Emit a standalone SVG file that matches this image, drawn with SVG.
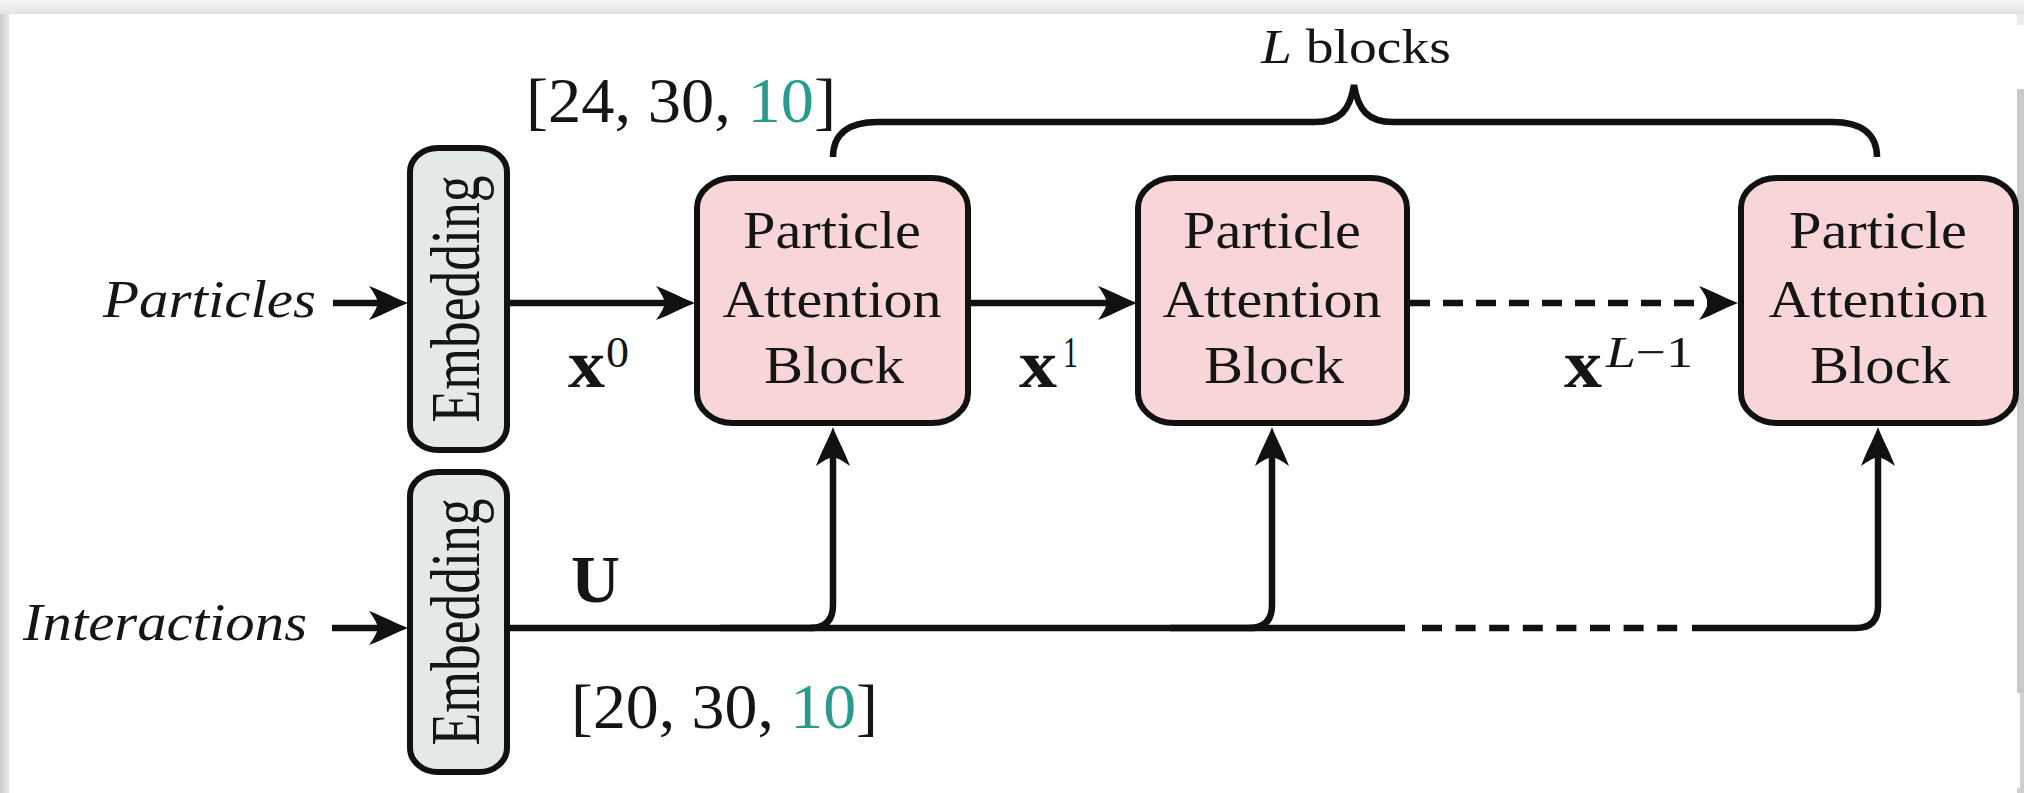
<svg xmlns="http://www.w3.org/2000/svg" width="2024" height="793" viewBox="0 0 2024 793">
  <defs>
    <linearGradient id="gTop" x1="0" y1="0" x2="0" y2="1">
      <stop offset="0" stop-color="#f6f6f6"/>
      <stop offset="1" stop-color="#e3e3e3"/>
    </linearGradient>
    <linearGradient id="gLeft" x1="0" y1="0" x2="1" y2="0">
      <stop offset="0" stop-color="#cdcdcd"/>
      <stop offset="1" stop-color="#e8e8e8"/>
    </linearGradient>
    <marker id="arrow" markerUnits="userSpaceOnUse" viewBox="-20 -20 50 40" refX="0" refY="0" markerWidth="50" markerHeight="40" orient="auto">
      <path d="M25,0 C14,-4 2,-11 -14,-17 Q-6,-6 -5,0 Q-6,6 -14,17 C2,11 14,4 25,0 Z" fill="#111"/>
    </marker>
    <style>
      .pab { fill: #f8d6d7; stroke: #111; stroke-width: 6; }
      .emb { fill: #e2e9e7; stroke: #111; stroke-width: 6; }
      .lbl { font-family: "Liberation Serif", "Times New Roman", serif; fill: #151515; }
      .blk { font-size: 52px; text-anchor: middle; }
      .ital { font-style: italic; }
      .bold { font-weight: bold; }
      .conn { fill: none; stroke: #111; stroke-width: 6.5; }
      .teal { fill: #2a9a8c; }
    </style>
  </defs>

  <!-- page background / edges -->
  <rect x="0" y="0" width="2024" height="793" fill="#ffffff"/>
  <rect x="0" y="0" width="2024" height="14" fill="url(#gTop)"/>
  <rect x="0" y="14" width="9" height="779" fill="url(#gLeft)"/>
  <rect x="2017" y="14" width="7" height="11" fill="#ececec"/>
  <rect x="2017" y="89" width="7" height="604" fill="#c9c9c9"/>
  <rect x="2020" y="693" width="4" height="95" fill="#d0d0d0"/>
  <rect x="2017" y="788" width="7" height="5" fill="#d0d0d0"/>

  <!-- connectors -->
  <g id="connectors">
    <!-- Particles input -->
    <line class="conn" x1="333" y1="303" x2="383" y2="303" marker-end="url(#arrow)"/>
    <!-- Embedding -> PAB1 -->
    <line class="conn" x1="507" y1="303" x2="670" y2="303" marker-end="url(#arrow)"/>
    <!-- PAB1 -> PAB2 -->
    <line class="conn" x1="968" y1="303" x2="1112" y2="303" marker-end="url(#arrow)"/>
    <!-- PAB2 -> PAB3 dashed -->
    <line class="conn" x1="1410" y1="303" x2="1713" y2="303" stroke-dasharray="20 13" marker-end="url(#arrow)"/>
    <!-- Interactions input -->
    <line class="conn" x1="332" y1="628" x2="383" y2="628" marker-end="url(#arrow)"/>
    <!-- U line -->
    <line class="conn" x1="507" y1="628" x2="1405" y2="628"/>
    <line class="conn" x1="720" y1="628" x2="815" y2="628" stroke-width="9"/>
    <line class="conn" x1="1170" y1="628" x2="1255" y2="628" stroke-width="9"/>
    <line class="conn" x1="1422" y1="628" x2="1680" y2="628" stroke-dasharray="20 13.6"/>
    <path class="conn" d="M1692,628 L1856,628 Q1878,628 1878,606 L1878,452" marker-end="url(#arrow)"/>
    <!-- branches up -->
    <path class="conn" d="M810,628 Q833,628 833,605 L833,452" marker-end="url(#arrow)"/>
    <path class="conn" d="M1249,628 Q1272,628 1272,605 L1272,452" marker-end="url(#arrow)"/>
    <!-- brace -->
    <path class="conn" d="M833,157 C833,135 847,122 878,122 L1315,122 C1340,122 1350,110 1354,85 C1358,110 1368,122 1393,122 L1832,122 C1863,122 1877,135 1877,157"/>
  </g>

  <!-- nodes -->
  <g id="embedding-particles">
    <rect class="emb" x="410" y="148" width="97" height="302" rx="28" ry="24"/>
    <text class="lbl" font-size="70" text-anchor="middle" textLength="247" lengthAdjust="spacingAndGlyphs" transform="translate(479,299) rotate(-90)">Embedding</text>
  </g>
  <g id="embedding-interactions">
    <rect class="emb" x="410" y="472" width="97" height="300" rx="28" ry="24"/>
    <text class="lbl" font-size="70" text-anchor="middle" textLength="247" lengthAdjust="spacingAndGlyphs" transform="translate(479,622) rotate(-90)">Embedding</text>
  </g>
  <g id="pab1">
    <rect class="pab" x="697" y="178" width="271" height="245" rx="36" ry="30"/>
    <text class="lbl blk" x="832" y="248" textLength="178" lengthAdjust="spacingAndGlyphs">Particle</text>
    <text class="lbl blk" x="832" y="317" textLength="219" lengthAdjust="spacingAndGlyphs">Attention</text>
    <text class="lbl blk" x="834" y="383" textLength="140" lengthAdjust="spacingAndGlyphs">Block</text>
  </g>
  <g id="pab2">
    <rect class="pab" x="1138" y="178" width="269" height="245" rx="36" ry="30"/>
    <text class="lbl blk" x="1272" y="248" textLength="178" lengthAdjust="spacingAndGlyphs">Particle</text>
    <text class="lbl blk" x="1272" y="317" textLength="219" lengthAdjust="spacingAndGlyphs">Attention</text>
    <text class="lbl blk" x="1274" y="383" textLength="140" lengthAdjust="spacingAndGlyphs">Block</text>
  </g>
  <g id="pab3">
    <rect class="pab" x="1741" y="178" width="275" height="245" rx="36" ry="30"/>
    <text class="lbl blk" x="1878" y="248" textLength="178" lengthAdjust="spacingAndGlyphs">Particle</text>
    <text class="lbl blk" x="1878" y="317" textLength="219" lengthAdjust="spacingAndGlyphs">Attention</text>
    <text class="lbl blk" x="1880" y="383" textLength="140" lengthAdjust="spacingAndGlyphs">Block</text>
  </g>

  <!-- labels -->
  <g id="labels">
    <text class="lbl ital" x="103" y="317" font-size="53" textLength="213" lengthAdjust="spacingAndGlyphs">Particles</text>
    <text class="lbl ital" x="23" y="640" font-size="53" textLength="284" lengthAdjust="spacingAndGlyphs">Interactions</text>

    <text class="lbl" x="1261" y="63" font-size="48" textLength="190" lengthAdjust="spacingAndGlyphs"><tspan font-style="italic">L</tspan> blocks</text>

    <text class="lbl bold" x="568" y="387" font-size="68" textLength="37" lengthAdjust="spacingAndGlyphs">x</text>
    <text class="lbl" x="606" y="367" font-size="44" textLength="23" lengthAdjust="spacingAndGlyphs">0</text>

    <text class="lbl bold" x="1019" y="387" font-size="68" textLength="38" lengthAdjust="spacingAndGlyphs">x</text>
    <text class="lbl" x="1063" y="367" font-size="44" textLength="15" lengthAdjust="spacingAndGlyphs">1</text>

    <text class="lbl bold" x="1564" y="387" font-size="68" textLength="38" lengthAdjust="spacingAndGlyphs">x</text>
    <text class="lbl" x="1606" y="367" font-size="44" textLength="87" lengthAdjust="spacingAndGlyphs"><tspan font-style="italic">L</tspan>−1</text>

    <text class="lbl bold" x="571" y="602" font-size="68" textLength="49" lengthAdjust="spacingAndGlyphs">U</text>

    <text class="lbl" x="526" y="122" font-size="64" textLength="310" lengthAdjust="spacingAndGlyphs" fill="#000">[24, 30, <tspan class="teal">10</tspan>]</text>
    <text class="lbl" x="571" y="728" font-size="64" textLength="307" lengthAdjust="spacingAndGlyphs" fill="#000">[20, 30, <tspan class="teal">10</tspan>]</text>
  </g>
</svg>
